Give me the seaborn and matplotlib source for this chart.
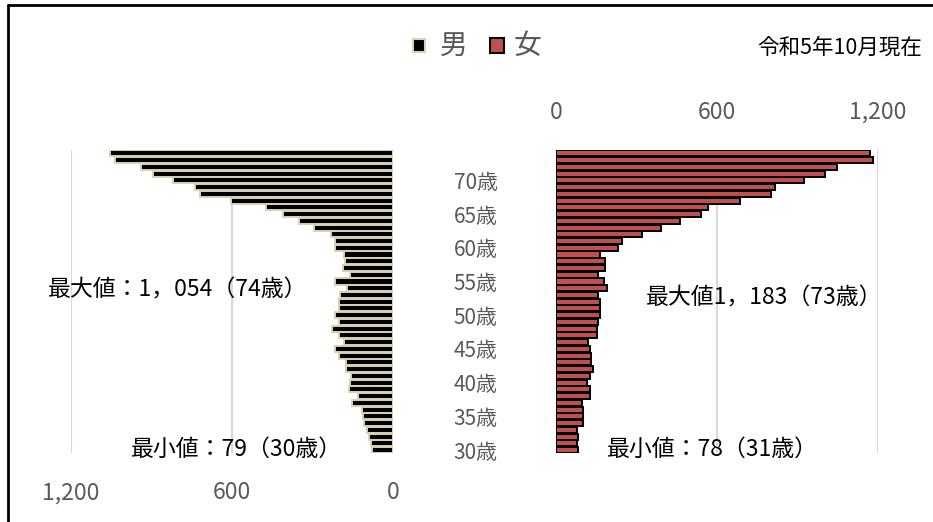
import numpy as np
import pandas as pd
import seaborn as sns
import matplotlib.pyplot as plt
from matplotlib.lines import Line2D
from matplotlib.patches import Rectangle

sns.set_style('white')
plt.rcParams['font.family'] = ['Noto Sans CJK JP', 'DejaVu Sans']

# ages 30..74 (bottom to top)
ages = list(range(30, 75))

male = [79, 82, 88, 98, 108, 113, 117, 154, 129, 163,
        160, 158, 175, 175, 200, 216, 181, 200, 229, 200,
        216, 200, 200, 198, 170, 216, 160, 188, 179, 183,
        216, 216, 232, 293, 349, 411, 473, 605, 719, 738,
        819, 893, 939, 1036, 1054]

female = [83, 78, 83, 80, 102, 102, 102, 96, 127, 127,
          114, 127, 137, 129, 129, 127, 118, 152, 152, 158,
          164, 164, 164, 158, 189, 179, 158, 183, 183, 164,
          232, 245, 319, 390, 462, 539, 568, 686, 800, 816,
          926, 1003, 1049, 1183, 1170]

age_ticks = [30, 35, 40, 45, 50, 55, 60, 65, 70]
age_labels = [f'{a}歳' for a in age_ticks]
x_ticks = [0, 600, 1200]
x_labels = ['0', '600', '1,200']

df = pd.DataFrame({'age': ages, 'male': male, 'female': female})

male_color = '#000000'
male_edge = '#d8d2b4'
female_color = '#c0504d'
female_edge = '#000000'
grey = '#595959'

fig = plt.figure(figsize=(9.33, 5.22), dpi=100)
ax_m = fig.add_axes([0.0761, 0.1314, 0.3451, 0.5812])
ax_f = fig.add_axes([0.5959, 0.1314, 0.3451, 0.5812])

sns.barplot(data=df, x='male', y='age', orient='h', native_scale=True,
            color=male_color, edgecolor=male_edge, linewidth=1.4,
            width=0.9, errorbar=None, ax=ax_m, saturation=1)
sns.barplot(data=df, x='female', y='age', orient='h', native_scale=True,
            color=female_color, edgecolor=female_edge, linewidth=1.4,
            width=0.9, errorbar=None, ax=ax_f, saturation=1)

for ax in (ax_m, ax_f):
    ax.set_ylim(29.5, 74.5)
    ax.set_xlabel('')
    ax.set_ylabel('')
    for s in ax.spines.values():
        s.set_visible(False)
    ax.set_xticks(x_ticks)
    ax.set_xticklabels(x_labels)
    ax.grid(axis='x', color='#d9d9d9', linewidth=1.5)
    ax.set_axisbelow(True)
    ax.tick_params(axis='x', length=0, labelsize=16.5, labelcolor=grey)

ax_m.set_xlim(1200, 0)
ax_m.set_yticks([])
ax_m.tick_params(axis='x', pad=20)

ax_f.set_xlim(0, 1200)
ax_f.xaxis.tick_top()
ax_f.tick_params(axis='x', pad=19)
ax_f.set_yticks(age_ticks)
ax_f.set_yticklabels(age_labels)
ax_f.tick_params(axis='y', length=0, pad=42, labelsize=15, labelcolor=grey)

# annotations
ann = dict(fontsize=16.5, color='#000000', ha='center', va='center')
fig.text(178 / 933, 1 - 290 / 522, '最大値：1，054（74歳）', **ann)
fig.text(236 / 933, 1 - 449 / 522, '最小値：79（30歳）', **ann)
fig.text(764 / 933, 1 - 298 / 522, '最大値1，183（73歳）', **ann)
fig.text(712 / 933, 1 - 449 / 522, '最小値：78（31歳）', **ann)

# legend
fig.add_artist(Rectangle((413 / 933, 1 - 52 / 522), 12 / 933, 13 / 522,
                         facecolor=male_color, edgecolor=male_edge, linewidth=1.5,
                         transform=fig.transFigure))
fig.text(440 / 933, 1 - 46 / 522, '男', fontsize=20, color=grey, va='center')
fig.add_artist(Rectangle((490 / 933, 1 - 53 / 522), 14 / 933, 15 / 522,
                         facecolor=female_color, edgecolor=female_edge, linewidth=1.5,
                         transform=fig.transFigure))
fig.text(514 / 933, 1 - 46 / 522, '女', fontsize=20, color=grey, va='center')

fig.text(922 / 933, 1 - 48 / 522, '令和5年10月現在', fontsize=15.5, color='#000000',
         ha='right', va='center')

# frame lines (top and left)
fig.add_artist(Line2D([8 / 933, 1], [1 - 5 / 522, 1 - 5 / 522], color='black',
                      linewidth=2, transform=fig.transFigure))
fig.add_artist(Line2D([8 / 933, 8 / 933], [0, 1 - 5 / 522], color='black',
                      linewidth=2, transform=fig.transFigure))

fig.savefig('out.png', dpi=100)
